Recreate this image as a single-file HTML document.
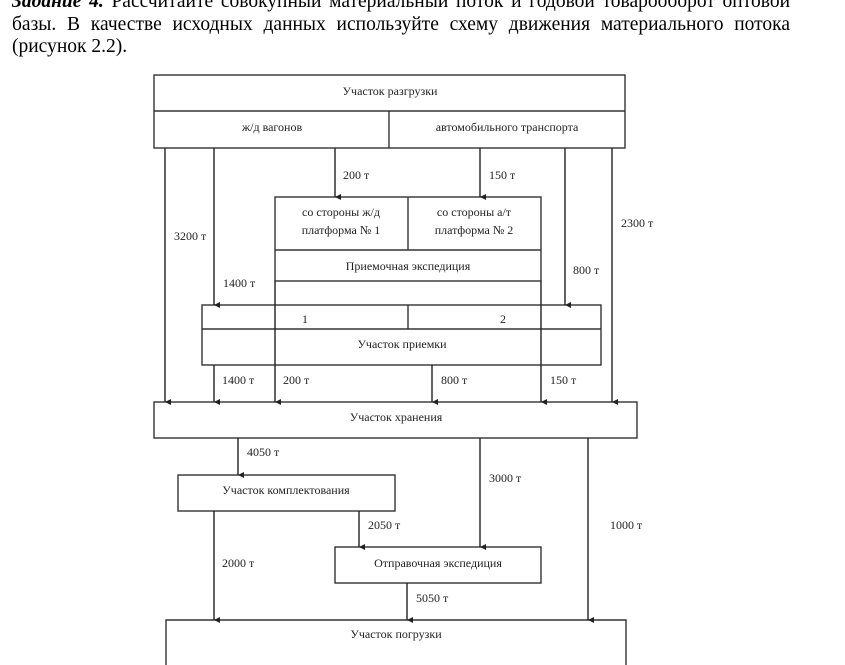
<!DOCTYPE html>
<html><head><meta charset="utf-8"><style>
body{margin:0;width:845px;height:665px;background:#fff;overflow:hidden;position:relative}
.l{position:absolute;left:12px;width:778px;font:19.5px/22px "Liberation Serif",serif;color:#000;white-space:nowrap}
.j{text-align:justify;text-align-last:justify;white-space:normal}
svg{position:absolute;left:0;top:0}
text{font-family:"Liberation Serif",serif;font-size:12px;fill:#222}
</style></head><body>
<div class="l j" style="top:-9px"><b><i>Задание 4.</i></b> Рассчитайте совокупный материальный поток и годовой товарооборот оптовой</div>
<div class="l j" style="top:14px">базы. В качестве исходных данных используйте схему движения материального потока</div>
<div class="l" style="top:36px">(рисунок 2.2).</div>
<svg width="845" height="665" viewBox="0 0 845 665">
<defs><marker id="a" markerWidth="8" markerHeight="8" refX="4" refY="7" orient="auto" markerUnits="userSpaceOnUse"><path d="M1,1 L4,7 L7,1 Z" fill="#222"/></marker></defs>
<g fill="none" stroke="#333" stroke-width="1.4">
<rect x="154" y="75" width="471" height="73"/>
<line x1="154" y1="111" x2="625" y2="111"/>
<line x1="389" y1="111" x2="389" y2="148"/>
<rect x="275" y="197" width="266" height="84"/>
<line x1="408" y1="197" x2="408" y2="250"/>
<line x1="275" y1="250" x2="541" y2="250"/>
<rect x="202" y="305" width="399" height="60"/>
<line x1="202" y1="329" x2="601" y2="329"/>
<line x1="408" y1="305" x2="408" y2="329"/>
<rect x="154" y="402" width="483" height="36"/>
<rect x="178" y="475" width="217" height="36"/>
<rect x="335" y="547" width="206" height="36"/>
<path d="M166,665 L166,620 L626,620 L626,665"/>
</g>
<g stroke="#222" stroke-width="1.4" marker-end="url(#a)">
<line x1="165" y1="148" x2="165" y2="402"/>
<line x1="214" y1="148" x2="214" y2="305"/>
<line x1="335" y1="148" x2="335" y2="197"/>
<line x1="480" y1="148" x2="480" y2="197"/>
<line x1="565" y1="148" x2="565" y2="305"/>
<line x1="612" y1="148" x2="612" y2="402"/>
<line x1="275" y1="281" x2="275" y2="402"/>
<line x1="541" y1="281" x2="541" y2="402"/>
<line x1="214" y1="365" x2="214" y2="402"/>
<line x1="432" y1="365" x2="432" y2="402"/>
<line x1="238" y1="438" x2="238" y2="475"/>
<line x1="480" y1="438" x2="480" y2="547"/>
<line x1="588" y1="438" x2="588" y2="620"/>
<line x1="214" y1="511" x2="214" y2="620"/>
<line x1="359" y1="511" x2="359" y2="547"/>
<line x1="407" y1="583" x2="407" y2="620"/>
</g>
<g text-anchor="middle">
<text x="390" y="95">Участок разгрузки</text>
<text x="272" y="131">ж/д вагонов</text>
<text x="507" y="131">автомобильного транспорта</text>
<text x="341" y="216">со стороны ж/д</text>
<text x="341" y="234">платформа № 1</text>
<text x="474" y="216">со стороны а/т</text>
<text x="474" y="234">платформа № 2</text>
<text x="408" y="270">Приемочная экспедиция</text>
<text x="305" y="323">1</text>
<text x="503" y="323">2</text>
<text x="402" y="348">Участок приемки</text>
<text x="396" y="421">Участок хранения</text>
<text x="286" y="494">Участок комплектования</text>
<text x="438" y="567">Отправочная экспедиция</text>
<text x="396" y="638">Участок погрузки</text>
</g>
<g>
<text x="343" y="179">200 т</text>
<text x="489" y="179">150 т</text>
<text x="174" y="240">3200 т</text>
<text x="621" y="227">2300 т</text>
<text x="223" y="287">1400 т</text>
<text x="573" y="274">800 т</text>
<text x="222" y="384">1400 т</text>
<text x="283" y="384">200 т</text>
<text x="441" y="384">800 т</text>
<text x="550" y="384">150 т</text>
<text x="247" y="456">4050 т</text>
<text x="489" y="482">3000 т</text>
<text x="368" y="529">2050 т</text>
<text x="610" y="529">1000 т</text>
<text x="222" y="567">2000 т</text>
<text x="416" y="602">5050 т</text>
</g>
</svg>
</body></html>
